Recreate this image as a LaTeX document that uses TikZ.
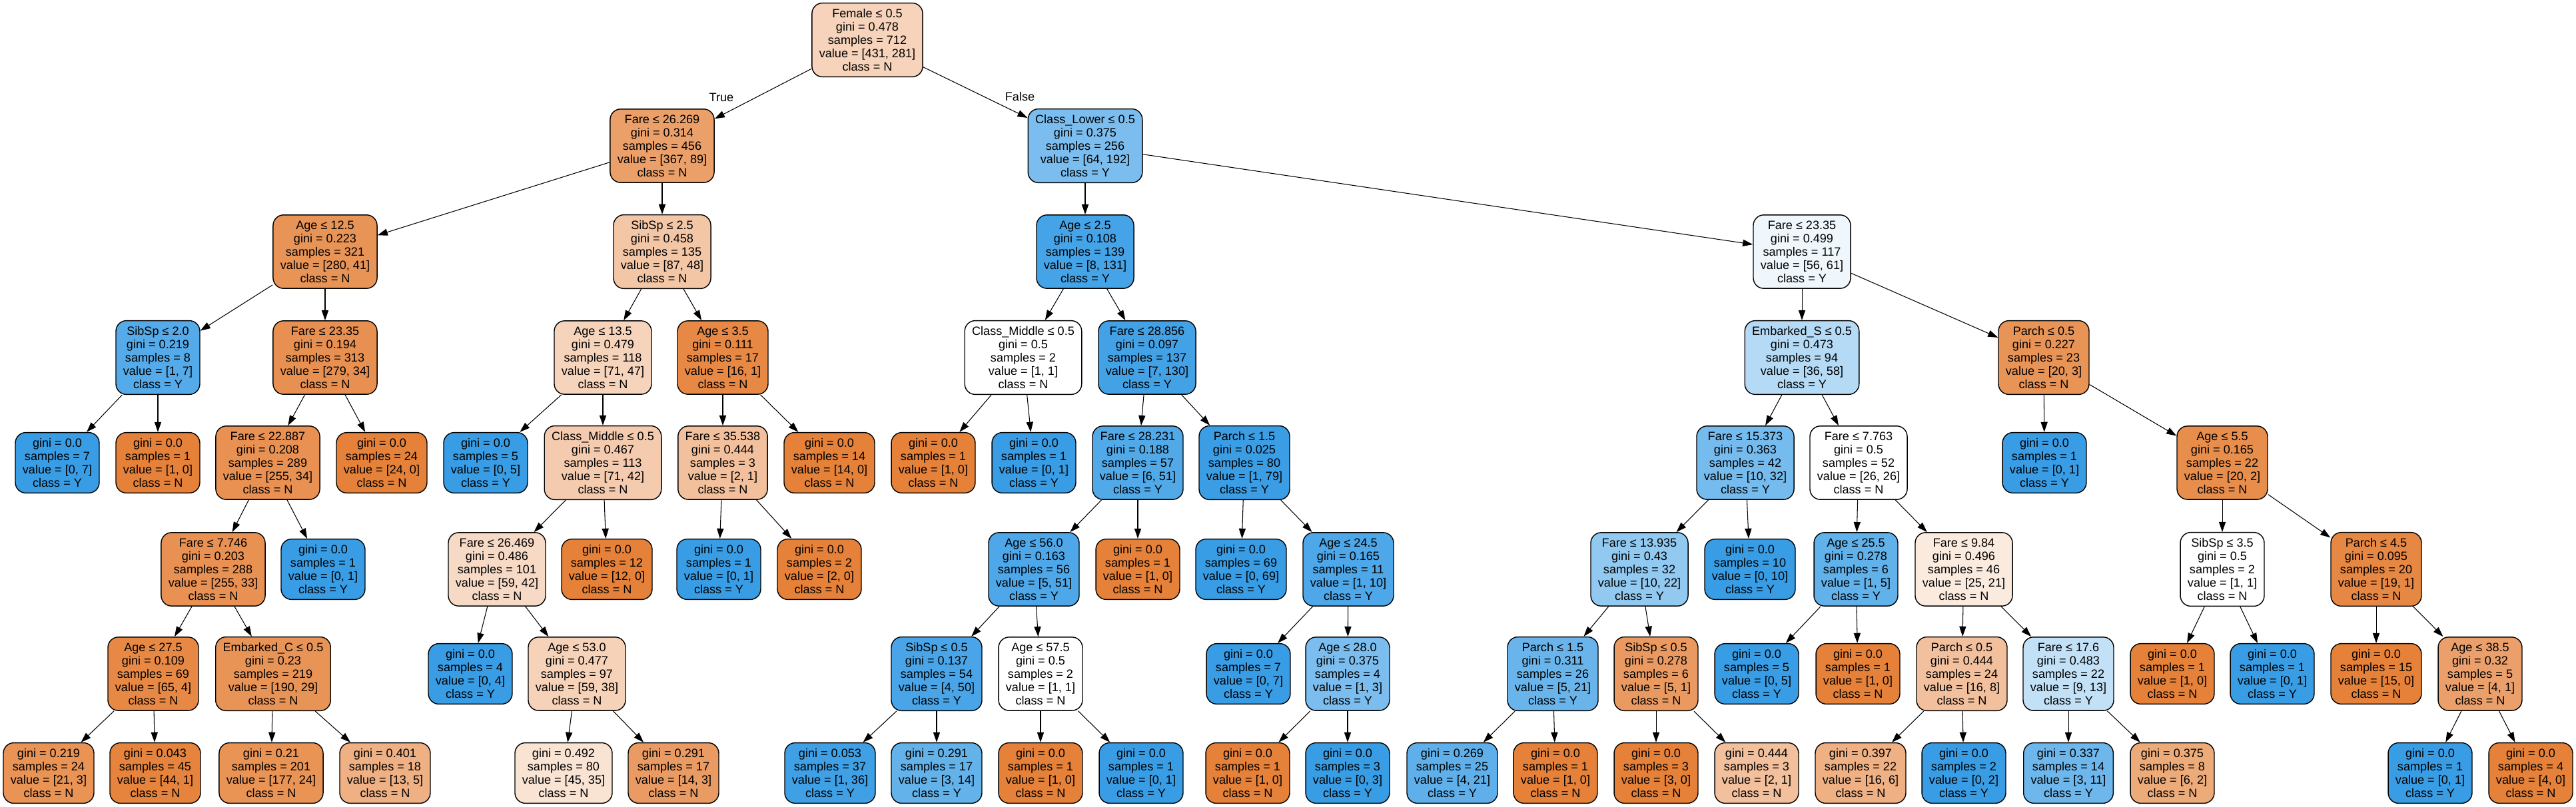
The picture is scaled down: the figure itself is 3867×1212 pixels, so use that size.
\documentclass[tikz,border=0pt]{standalone}
\usepackage{fontspec}
\setmainfont{Liberation Sans}
\usetikzlibrary{arrows.meta}
\definecolor{classN}{RGB}{229,129,57}
\definecolor{classY}{RGB}{57,157,229}
\tikzset{
  dtnode/.style={draw=black, line width=0.4pt, rounded corners=4.5pt, align=center,
    font=\fontsize{5.15}{5.69}\selectfont, inner xsep=3.1pt, inner ysep=2.5pt},
  isN/.style={dtnode, fill=classN!#1},
  isY/.style={dtnode, fill=classY!#1},
  branch/.style={-{Triangle[length=4.3pt,width=2.9pt]}, line width=0.3pt},
  sidelbl/.style={font=\fontsize{5.15}{5.69}\selectfont, inner sep=0pt}
}

\begin{document}
\begin{tikzpicture}[x=0.1mm, y=-0.1mm]
\useasboundingbox (0,0) rectangle (3867,1212);

% Depth 0 - root
\node[isN=35] (t) at (1302,60) {Female ≤ 0.5\\gini = 0.478\\samples = 712\\value = [431, 281]\\class = N};

% Depth 1
\node[isN=76] (tl) at (994,219) {Fare ≤ 26.269\\gini = 0.314\\samples = 456\\value = [367, 89]\\class = N};
\node[isY=67] (tr) at (1629,219) {Class\_Lower ≤ 0.5\\gini = 0.375\\samples = 256\\value = [64, 192]\\class = Y};

% Depth 2
\node[isN=85] (tll) at (488,378) {Age ≤ 12.5\\gini = 0.223\\samples = 321\\value = [280, 41]\\class = N};
\node[isN=45] (tlr) at (994,378) {SibSp ≤ 2.5\\gini = 0.458\\samples = 135\\value = [87, 48]\\class = N};
\node[isY=94] (trl) at (1629,378) {Age ≤ 2.5\\gini = 0.108\\samples = 139\\value = [8, 131]\\class = Y};
\node[isY=8] (trr) at (2705,378) {Fare ≤ 23.35\\gini = 0.499\\samples = 117\\value = [56, 61]\\class = Y};

% Depth 3
\node[isY=86] (tlll) at (237,537) {SibSp ≤ 2.0\\gini = 0.219\\samples = 8\\value = [1, 7]\\class = Y};
\node[isN=88] (tllr) at (488,537) {Fare ≤ 23.35\\gini = 0.194\\samples = 313\\value = [279, 34]\\class = N};
\node[isN=34] (tlrl) at (905,537) {Age ≤ 13.5\\gini = 0.479\\samples = 118\\value = [71, 47]\\class = N};
\node[isN=94] (tlrr) at (1085,537) {Age ≤ 3.5\\gini = 0.111\\samples = 17\\value = [16, 1]\\class = N};
\node[isN=0] (trll) at (1536,537) {Class\_Middle ≤ 0.5\\gini = 0.5\\samples = 2\\value = [1, 1]\\class = N};
\node[isY=95] (trlr) at (1722,537) {Fare ≤ 28.856\\gini = 0.097\\samples = 137\\value = [7, 130]\\class = Y};
\node[isY=38] (trrl) at (2705,537) {Embarked\_S ≤ 0.5\\gini = 0.473\\samples = 94\\value = [36, 58]\\class = Y};
\node[isN=85] (trrr) at (3068,537) {Parch ≤ 0.5\\gini = 0.227\\samples = 23\\value = [20, 3]\\class = N};

% Depth 4
\node[isY=100] (tllll) at (86,695) {gini = 0.0\\samples = 7\\value = [0, 7]\\class = Y};
\node[isN=100] (tlllr) at (237,695) {gini = 0.0\\samples = 1\\value = [1, 0]\\class = N};
\node[isN=87] (tllrl) at (402,695) {Fare ≤ 22.887\\gini = 0.208\\samples = 289\\value = [255, 34]\\class = N};
\node[isN=100] (tllrr) at (573,695) {gini = 0.0\\samples = 24\\value = [24, 0]\\class = N};
\node[isY=100] (tlrll) at (729,695) {gini = 0.0\\samples = 5\\value = [0, 5]\\class = Y};
\node[isN=41] (tlrlr) at (905,695) {Class\_Middle ≤ 0.5\\gini = 0.467\\samples = 113\\value = [71, 42]\\class = N};
\node[isN=50] (tlrrl) at (1085,695) {Fare ≤ 35.538\\gini = 0.444\\samples = 3\\value = [2, 1]\\class = N};
\node[isN=100] (tlrrr) at (1245,695) {gini = 0.0\\samples = 14\\value = [14, 0]\\class = N};
\node[isN=100] (trlll) at (1401,695) {gini = 0.0\\samples = 1\\value = [1, 0]\\class = N};
\node[isY=100] (trllr) at (1552,695) {gini = 0.0\\samples = 1\\value = [0, 1]\\class = Y};
\node[isY=88] (trlrl) at (1708,695) {Fare ≤ 28.231\\gini = 0.188\\samples = 57\\value = [6, 51]\\class = Y};
\node[isY=99] (trlrr) at (1868,695) {Parch ≤ 1.5\\gini = 0.025\\samples = 80\\value = [1, 79]\\class = Y};
\node[isY=69] (trrll) at (2620,695) {Fare ≤ 15.373\\gini = 0.363\\samples = 42\\value = [10, 32]\\class = Y};
\node[isN=0] (trrlr) at (2790,695) {Fare ≤ 7.763\\gini = 0.5\\samples = 52\\value = [26, 26]\\class = N};
\node[isY=100] (trrrl) at (3069,695) {gini = 0.0\\samples = 1\\value = [0, 1]\\class = Y};
\node[isN=90] (trrrr) at (3336,695) {Age ≤ 5.5\\gini = 0.165\\samples = 22\\value = [20, 2]\\class = N};

% Depth 5
\node[isN=87] (tllrll) at (320,855) {Fare ≤ 7.746\\gini = 0.203\\samples = 288\\value = [255, 33]\\class = N};
\node[isY=100] (tllrlr) at (485,855) {gini = 0.0\\samples = 1\\value = [0, 1]\\class = Y};
\node[isN=29] (tlrlrl) at (746,855) {Fare ≤ 26.469\\gini = 0.486\\samples = 101\\value = [59, 42]\\class = N};
\node[isN=100] (tlrlrr) at (911,855) {gini = 0.0\\samples = 12\\value = [12, 0]\\class = N};
\node[isY=100] (tlrrll) at (1079,855) {gini = 0.0\\samples = 1\\value = [0, 1]\\class = Y};
\node[isN=100] (tlrrlr) at (1230,855) {gini = 0.0\\samples = 2\\value = [2, 0]\\class = N};
\node[isY=90] (trlrll) at (1552,855) {Age ≤ 56.0\\gini = 0.163\\samples = 56\\value = [5, 51]\\class = Y};
\node[isN=100] (trlrlr) at (1708,855) {gini = 0.0\\samples = 1\\value = [1, 0]\\class = N};
\node[isY=100] (trlrrl) at (1863,855) {gini = 0.0\\samples = 69\\value = [0, 69]\\class = Y};
\node[isY=90] (trlrrr) at (2024,855) {Age ≤ 24.5\\gini = 0.165\\samples = 11\\value = [1, 10]\\class = Y};
\node[isY=55] (trrlll) at (2461,855) {Fare ≤ 13.935\\gini = 0.43\\samples = 32\\value = [10, 22]\\class = Y};
\node[isY=100] (trrllr) at (2627,855) {gini = 0.0\\samples = 10\\value = [0, 10]\\class = Y};
\node[isY=80] (trrlrl) at (2786,855) {Age ≤ 25.5\\gini = 0.278\\samples = 6\\value = [1, 5]\\class = Y};
\node[isN=16] (trrlrr) at (2948,855) {Fare ≤ 9.84\\gini = 0.496\\samples = 46\\value = [25, 21]\\class = N};
\node[isN=0] (trrrrl) at (3336,855) {SibSp ≤ 3.5\\gini = 0.5\\samples = 2\\value = [1, 1]\\class = N};
\node[isN=95] (trrrrr) at (3567,855) {Parch ≤ 4.5\\gini = 0.095\\samples = 20\\value = [19, 1]\\class = N};

% Depth 6
\node[isN=94] (tllrlll) at (230,1012) {Age ≤ 27.5\\gini = 0.109\\samples = 69\\value = [65, 4]\\class = N};
\node[isN=85] (tllrllr) at (410,1012) {Embarked\_C ≤ 0.5\\gini = 0.23\\samples = 219\\value = [190, 29]\\class = N};
\node[isY=100] (tlrlrll) at (706,1012) {gini = 0.0\\samples = 4\\value = [0, 4]\\class = Y};
\node[isN=36] (tlrlrlr) at (866,1012) {Age ≤ 53.0\\gini = 0.477\\samples = 97\\value = [59, 38]\\class = N};
\node[isY=92] (trlrlll) at (1406,1012) {SibSp ≤ 0.5\\gini = 0.137\\samples = 54\\value = [4, 50]\\class = Y};
\node[isN=0] (trlrllr) at (1562,1012) {Age ≤ 57.5\\gini = 0.5\\samples = 2\\value = [1, 1]\\class = N};
\node[isY=100] (trlrrrl) at (1874,1012) {gini = 0.0\\samples = 7\\value = [0, 7]\\class = Y};
\node[isY=67] (trlrrrr) at (2023,1012) {Age ≤ 28.0\\gini = 0.375\\samples = 4\\value = [1, 3]\\class = Y};
\node[isY=76] (trrllll) at (2331,1012) {Parch ≤ 1.5\\gini = 0.311\\samples = 26\\value = [5, 21]\\class = Y};
\node[isN=80] (trrlllr) at (2486,1012) {SibSp ≤ 0.5\\gini = 0.278\\samples = 6\\value = [5, 1]\\class = N};
\node[isY=100] (trrlrll) at (2637,1012) {gini = 0.0\\samples = 5\\value = [0, 5]\\class = Y};
\node[isN=100] (trrlrlr) at (2789,1012) {gini = 0.0\\samples = 1\\value = [1, 0]\\class = N};
\node[isN=50] (trrlrrl) at (2945,1012) {Parch ≤ 0.5\\gini = 0.444\\samples = 24\\value = [16, 8]\\class = N};
\node[isY=31] (trrlrrr) at (3105,1012) {Fare ≤ 17.6\\gini = 0.483\\samples = 22\\value = [9, 13]\\class = Y};
\node[isN=100] (trrrrll) at (3261,1012) {gini = 0.0\\samples = 1\\value = [1, 0]\\class = N};
\node[isY=100] (trrrrlr) at (3411,1012) {gini = 0.0\\samples = 1\\value = [0, 1]\\class = Y};
\node[isN=100] (trrrrrl) at (3567,1012) {gini = 0.0\\samples = 15\\value = [15, 0]\\class = N};
\node[isN=75] (trrrrrr) at (3723,1012) {Age ≤ 38.5\\gini = 0.32\\samples = 5\\value = [4, 1]\\class = N};

% Depth 7 - leaves
\node[isN=86] (tllrllll) at (73,1161) {gini = 0.219\\samples = 24\\value = [21, 3]\\class = N};
\node[isN=98] (tllrlllr) at (233,1161) {gini = 0.043\\samples = 45\\value = [44, 1]\\class = N};
\node[isN=86] (tllrllrl) at (407,1161) {gini = 0.21\\samples = 201\\value = [177, 24]\\class = N};
\node[isN=62] (tllrllrr) at (578,1161) {gini = 0.401\\samples = 18\\value = [13, 5]\\class = N};
\node[isN=22] (tlrlrlrl) at (846,1161) {gini = 0.492\\samples = 80\\value = [45, 35]\\class = N};
\node[isN=79] (tlrlrlrr) at (1011,1161) {gini = 0.291\\samples = 17\\value = [14, 3]\\class = N};
\node[isY=97] (trlrllll) at (1246,1161) {gini = 0.053\\samples = 37\\value = [1, 36]\\class = Y};
\node[isY=79] (trlrlllr) at (1406,1161) {gini = 0.291\\samples = 17\\value = [3, 14]\\class = Y};
\node[isN=100] (trlrllrl) at (1562,1161) {gini = 0.0\\samples = 1\\value = [1, 0]\\class = N};
\node[isY=100] (trlrllrr) at (1713,1161) {gini = 0.0\\samples = 1\\value = [0, 1]\\class = Y};
\node[isN=100] (trlrrrrl) at (1873,1161) {gini = 0.0\\samples = 1\\value = [1, 0]\\class = N};
\node[isY=100] (trlrrrrr) at (2023,1161) {gini = 0.0\\samples = 3\\value = [0, 3]\\class = Y};
\node[isY=81] (trrlllll) at (2180,1161) {gini = 0.269\\samples = 25\\value = [4, 21]\\class = Y};
\node[isN=100] (trrllllr) at (2335,1161) {gini = 0.0\\samples = 1\\value = [1, 0]\\class = N};
\node[isN=100] (trrlllrl) at (2486,1161) {gini = 0.0\\samples = 3\\value = [3, 0]\\class = N};
\node[isN=50] (trrlllrr) at (2637,1161) {gini = 0.444\\samples = 3\\value = [2, 1]\\class = N};
\node[isN=62] (trrlrrll) at (2793,1161) {gini = 0.397\\samples = 22\\value = [16, 6]\\class = N};
\node[isY=100] (trrlrrlr) at (2948,1161) {gini = 0.0\\samples = 2\\value = [0, 2]\\class = Y};
\node[isY=73] (trrlrrrl) at (3105,1161) {gini = 0.337\\samples = 14\\value = [3, 11]\\class = Y};
\node[isN=67] (trrlrrrr) at (3261,1161) {gini = 0.375\\samples = 8\\value = [6, 2]\\class = N};
\node[isY=100] (trrrrrrl) at (3648,1161) {gini = 0.0\\samples = 1\\value = [0, 1]\\class = Y};
\node[isN=100] (trrrrrrr) at (3799,1161) {gini = 0.0\\samples = 4\\value = [4, 0]\\class = N};

% branches: every split node points to its l and r child
\foreach \p in {t, tl, tr, tll, tlr, trl, trr, tlll, tllr, tlrl, tlrr, trll, trlr, trrl, trrr,
    tllrl, tlrlr, tlrrl, trlrl, trlrr, trrll, trrlr, trrrr,
    tllrll, tlrlrl, trlrll, trlrrr, trrlll, trrlrl, trrlrr, trrrrl, trrrrr,
    tllrlll, tllrllr, tlrlrlr, trlrlll, trlrllr, trlrrrr, trrllll, trrlllr, trrlrrl, trrlrrr, trrrrrr}
{
  \draw[branch] (\p) -- (\p l);
  \draw[branch] (\p) -- (\p r);
}

\node[sidelbl] (truelbl) at (1083,146) {True};
\node[sidelbl] (falselbl) at (1531,145) {False};

\end{tikzpicture}
\end{document}
